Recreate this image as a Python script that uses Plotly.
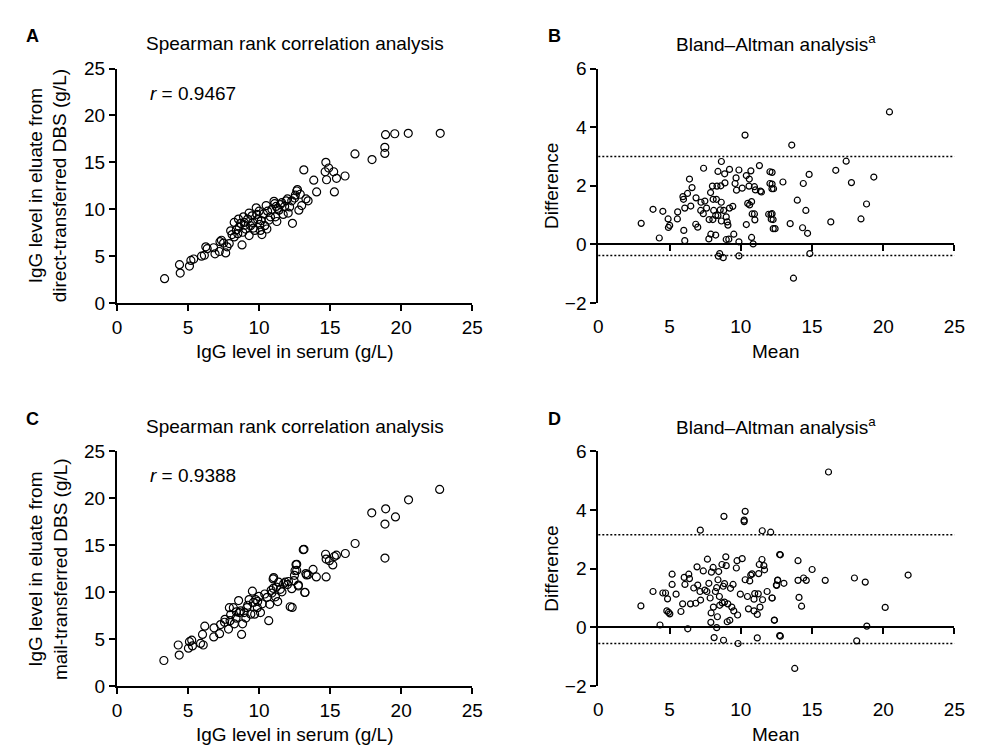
import plotly.graph_objects as go

# ---------------- data ----------------
# Panel A: serum IgG vs direct-transferred DBS eluate IgG (g/L)
a_serum = [3.35, 4.4, 4.45, 5.1, 5.2, 5.4, 5.95, 6.15, 6.25, 6.35, 6.9, 7.2, 7.25, 7.35, 7.65, 7.75,
           7.9, 8.0, 8.25, 8.25, 8.4, 8.55, 8.6, 8.8, 8.85, 8.95, 9.05, 9.2, 9.3, 9.4, 9.55, 9.7,
           9.8, 9.85, 10.0, 10.1, 10.15, 10.2, 10.4, 10.55, 10.7, 10.9, 11.05, 11.1, 11.15, 11.25,
           11.4, 11.5, 11.6, 11.7, 11.8, 12.05, 12.15, 12.35, 12.55, 12.65, 12.7, 12.8, 13.15, 13.3,
           13.45, 13.85, 14.05, 14.65, 14.7, 14.75, 14.9, 15.25, 15.3, 15.45, 16.05, 16.75, 17.95,
           18.85, 18.85, 18.9, 19.55, 20.5, 22.75,
           8.1, 8.5, 9.0, 9.5, 9.6, 10.3, 10.6, 10.8, 11.3, 7.5, 6.8, 9.9, 10.05, 8.7, 11.9, 12.3,
           12.5, 13.0, 12.9, 12.0, 11.2, 10.5, 9.3, 8.9]
a_dbs = [2.6, 4.1, 3.2, 3.95, 4.55, 4.7, 5.0, 5.1, 6.0, 5.8, 5.25, 5.5, 6.55, 6.7, 5.35, 6.0,
         6.35, 7.7, 7.05, 8.6, 7.8, 8.95, 8.1, 6.2, 7.55, 8.6, 7.9, 8.95, 7.2, 8.25, 8.6, 7.75,
         10.15, 9.45, 9.8, 7.75, 8.8, 7.3, 8.25, 7.9, 8.85, 10.0, 10.85, 10.6, 9.2, 8.7,
         9.9, 10.5, 10.7, 9.45, 10.3, 9.6, 10.25, 8.5, 11.5, 11.95, 12.1, 9.9, 14.2, 11.1,
         10.9, 13.1, 11.85, 14.0, 15.0, 13.15, 14.4, 14.0, 11.85, 13.3, 13.55, 15.9, 15.3,
         16.6, 15.95, 17.95, 18.05, 18.1, 18.1,
         7.3, 7.4, 8.3, 9.3, 8.0, 9.5, 9.8, 9.2, 10.1, 6.4, 5.9, 8.9, 8.4, 8.5, 10.9, 10.9,
         11.2, 10.4, 11.6, 11.1, 10.3, 10.4, 9.6, 9.2]
a_r_text = "<i>r</i> = 0.9467"

# Panel B: Bland-Altman (direct-transferred)
b_mean = [3.01, 3.84, 4.28, 4.53, 4.9, 5.01, 4.92, 5.57, 5.55, 5.94, 5.98, 6.26, 6.4, 6.58, 6.0, 6.07,
          6.07, 6.49, 6.86, 6.84, 6.98, 7.21, 7.48, 7.39, 7.19, 7.37, 7.6, 7.78, 7.76, 7.9, 8.24,
          7.88, 8.01, 8.06, 8.1, 8.24, 8.04, 8.33, 8.4, 8.6, 8.64, 8.29, 8.63, 8.56, 8.4, 8.8,
          8.87, 8.89, 8.64, 8.98, 9.05, 9.1, 9.21, 9.21, 9.44, 8.98, 9.16, 9.51, 8.52, 8.43, 8.77,
          9.6, 9.67, 9.7, 9.87, 9.87, 9.87, 10.1, 10.3, 10.39, 10.39, 10.49, 10.58, 10.6, 10.71,
          10.62, 10.76, 10.8, 10.96, 10.99, 10.87, 10.76, 10.96, 11.03, 11.38, 11.45, 11.31,
          12.05, 12.05, 12.19, 11.96, 12.12, 12.14, 12.28,
          20.44, 13.58, 12.2, 12.2, 12.3, 12.96, 14.39, 14.8, 13.97, 14.57, 12.2, 12.27, 12.41,
          13.47, 14.34, 14.69, 14.85, 13.7, 16.32, 16.67, 17.4, 17.77, 18.83, 18.44, 19.34]
b_diff = [0.72, 1.2, 0.22, 1.13, 0.87, 0.65, 0.58, 1.11, 0.87, 1.63, 1.54, 1.74, 2.23, 1.94, 0.48, 0.13,
          1.24, 1.31, 1.59, 0.69, 0.59, 1.44, 1.48, 2.6, 1.16, 1.05, 1.24, 0.85, 0.19, 0.35, 0.32,
          1.77, 1.99, 1.54, 1.16, 0.99, 0.85, 1.99, 2.49, 2.0, 2.83, 1.54, 1.44, 1.18, 0.99, 1.16,
          2.41, 2.1, 0.8, 0.94, 0.77, 0.66, 2.56, 1.24, 1.3, 0.17, 0.18, 0.35, -0.31, -0.4, -0.45,
          2.08, 2.27, 1.85, 2.54, 0.09, -0.39, 1.92, 3.73, 2.35, 0.68, 1.4, 1.99, 2.23, 2.51,
          1.35, 1.46, 1.04, 1.04, 0.84, 0.02, 0.24, 1.97, 1.86, 1.82, 1.79, 2.69,
          2.48, 2.08, 1.9, 1.03, 1.03, 0.86, 0.54,
          4.52, 3.39, 2.46, 2.06, 1.9, 2.13, 2.08, 2.39, 1.51, 1.16, 1.05, 0.85, 0.54,
          0.71, 0.57, 0.38, -0.31, -1.15, 0.77, 2.53, 2.84, 2.11, 1.38, 0.87, 2.3]
b_upper_loa = 3.0
b_lower_loa = -0.38

# Panel C: serum IgG vs mail-transferred DBS eluate IgG (g/L)
c_serum = [3.3, 4.38, 4.31, 5.03, 5.1, 5.26, 5.31, 5.88, 6.07, 6.02, 6.18, 6.81, 6.83, 7.22, 7.29, 7.57,
           7.85, 7.96, 7.91, 8.19, 8.26, 8.38, 8.56, 8.61, 8.77, 8.84, 8.95, 9.07, 9.14, 9.3, 9.42,
           9.53, 9.69, 9.76, 9.88, 9.99, 10.1, 10.22, 10.57, 10.68, 10.75, 10.85, 10.99, 11.15,
           11.22, 11.31, 11.38, 11.61, 11.73, 11.84, 12.07, 12.19, 12.33, 12.3, 12.46, 12.53,
           12.65, 12.76, 13.11, 13.22, 13.34,
           22.71, 20.52, 18.91, 19.6, 17.93, 18.86, 18.86, 16.76, 16.07, 13.16, 14.68, 14.72,
           14.95, 15.3, 15.19, 15.44, 13.8, 14.03, 14.72, 13.29, 13.45, 12.6, 12.65, 12.49, 12.77,
           13.23, 11.03,
           8.0, 8.7, 9.6, 10.4, 11.0, 9.2, 7.6, 10.9, 11.5, 12.0, 8.4, 9.9]
c_dbs = [2.72, 3.3, 4.37, 4.03, 4.72, 4.89, 4.27, 4.54, 4.37, 5.5, 6.37, 5.23, 6.2, 5.58, 6.55, 6.79,
         6.07, 6.96, 8.34, 8.34, 6.62, 7.24, 9.1, 7.82, 5.5, 6.62, 7.82, 7.24, 8.34, 9.2, 7.65,
         10.1, 7.65, 9.2, 8.34, 9.54, 7.82, 8.75, 9.44, 6.96, 8.7, 10.2, 11.4, 9.5,
         10.54, 8.99, 11.06, 10.03, 10.89, 11.06, 11.13, 8.44, 8.37, 10.37, 11.23, 12.27,
         12.96, 10.65, 14.52, 9.96, 11.82,
         20.93, 19.82, 18.86, 18.0, 18.44, 17.24, 13.62, 15.17, 14.11, 14.55, 14.03, 13.51,
         13.34, 13.79, 12.89, 13.93, 12.41, 11.62, 11.62, 11.97, 11.86, 12.93, 12.31, 11.79, 10.75,
         9.97, 11.55,
         7.6, 8.0, 8.9, 9.8, 10.4, 8.6, 7.1, 9.9, 10.3, 10.8, 7.9, 9.0]
c_r_text = "<i>r</i> = 0.9388"

# Panel D: Bland-Altman (mail-transferred)
d_mean = [2.99, 3.84, 4.33, 4.53, 4.72, 4.86, 4.81, 5.02, 4.93, 5.18, 5.18, 5.46, 5.8, 5.92, 6.03, 6.08,
          6.35, 6.4, 6.28, 6.47, 6.7, 6.84, 6.93, 6.98, 7.16, 7.18, 7.14, 7.37, 7.48, 7.62, 7.66,
          7.76, 7.85, 7.92, 7.9, 7.94, 8.06, 8.08, 8.13, 8.22, 8.31, 8.36, 8.31, 8.4, 8.45, 8.5,
          8.52, 8.68, 8.7, 8.77, 8.79, 8.82, 8.86, 8.95, 8.98, 8.86, 9.05, 9.23, 9.09, 9.28, 9.37,
          9.46, 9.51, 9.69, 9.74, 9.78, 9.81, 9.97, 10.1, 10.24, 10.24, 10.31, 10.31, 10.47, 10.54,
          10.63, 10.7, 10.79, 10.93, 10.93, 10.98, 11.16, 11.16, 11.23, 11.26, 11.3, 11.35, 11.49,
          11.51, 11.53, 11.62, 11.67, 11.85, 12.2, 12.36, 12.5, 12.59, 12.73, 12.73,
          16.16, 12.1, 12.78, 14.02, 15.01, 12.59, 12.52, 13.03, 14.02, 14.41, 14.6, 15.93, 17.98,
          18.74, 21.75, 12.2, 14.09, 14.27, 20.14, 12.36, 18.85, 12.78, 18.14, 13.79]
d_diff = [0.73, 1.22, 0.08, 1.17, 1.17, 0.97, 0.56, 0.46, 0.51, 1.81, 1.46, 1.13, 0.54, 0.8, 1.7, 1.46,
          1.81, 1.66, -0.05, 0.8, 1.34, 0.82, 2.06, 1.44, 3.31, 0.93, 1.22, 1.92, 1.27, 1.22, 2.32,
          1.5, 1.0, 0.49, 0.17, 1.88, 2.04, 0.69, -0.35, 1.22, 1.35, 0.36, -0.01, 1.62, 1.9, 1.05,
          0.75, 2.14, 0.83, 1.4, -0.44, 3.78, 0.86, 2.4, 2.1, 1.49, 0.19, 0.24, 0.8, 1.33, 0.69,
          1.46, 0.56, 2.02, 2.27, 0.42, -0.55, 1.13, 2.34, 3.6, 3.65, 3.95, 1.62, 1.05, 0.63,
          1.58, 1.78, 1.82, 0.96, 0.56, 1.15, 0.44, -0.36, 1.14, 1.83, 2.14, 0.69, 2.31,
          3.29, 0.94, 2.1, 1.96, 1.22, 1.0, 0.25, 1.44, 1.61, 2.48, -0.28,
          5.29, 3.24, 2.47, 2.27, 1.97, 1.6, 1.43, 1.5, 1.6, 1.68, 1.6, 1.6, 1.68,
          1.54, 1.78, 1.0, 1.02, 0.72, 0.68, 0.24, 0.04, -0.3, -0.46, -1.4]
d_upper_loa = 3.15
d_lower_loa = -0.55

corr_range = [0, 25]
corr_ticks = [0, 5, 10, 15, 20, 25]
ba_xrange = [0, 25]
ba_yrange = [-2, 6]
ba_yticks = [-2, 0, 2, 4, 6]

corr_title = "Spearman rank correlation analysis"
ba_title = "Bland\u2013Altman analysis<sup>a</sup>"
x_corr_label = "IgG level in serum (g/L)"
y_a_label = "IgG level in eluate from<br>direct-transferred DBS (g/L)"
y_c_label = "IgG level in eluate from<br>mail-transferred DBS (g/L)"
x_ba_label = "Mean"
y_ba_label = "Difference"

# ---------------- layout geometry ----------------
W, H = 983, 751
FONT = "Liberation Sans, Arial, sans-serif"
FS = 19


def fx(px):
    return px / W


def fy(py):
    return 1 - py / H


XL = [fx(105.7), fx(466.8)]
XR = [fx(595), fx(957)]
YT = [fy(293.3), fy(52)]
YB = [fy(687.3), fy(445.6)]


def zero_pos(dom, rng):
    return dom[0] + (dom[1] - dom[0]) * (0 - rng[0]) / (rng[1] - rng[0])


axis_common = dict(showline=True, linewidth=2, linecolor="black", ticks="outside", ticklen=6,
                   tickwidth=2, tickcolor="black", showgrid=False, zeroline=False,
                   tickfont=dict(family=FONT, size=FS, color="black"))

fig = go.Figure()

open_big = dict(symbol="circle-open", size=8, color="black", line=dict(width=1.2, color="black"))
open_small = dict(symbol="circle-open", size=6, color="black", line=dict(width=1.2, color="black"))

fig.add_trace(go.Scatter(x=a_serum, y=a_dbs, mode="markers", marker=open_big, xaxis="x", yaxis="y"))
fig.add_trace(go.Scatter(x=b_mean, y=b_diff, mode="markers", marker=open_small, xaxis="x2", yaxis="y2"))
fig.add_trace(go.Scatter(x=c_serum, y=c_dbs, mode="markers", marker=open_big, xaxis="x3", yaxis="y3"))
fig.add_trace(go.Scatter(x=d_mean, y=d_diff, mode="markers", marker=open_small, xaxis="x4", yaxis="y4"))
# helper (empty) traces for the zero-line axes of the Bland-Altman panels
fig.add_trace(go.Scatter(x=[None], y=[None], mode="markers", xaxis="x5", yaxis="y2", hoverinfo="skip"))
fig.add_trace(go.Scatter(x=[None], y=[None], mode="markers", xaxis="x6", yaxis="y4", hoverinfo="skip"))

label_only = dict(showline=False, ticks="outside", ticklen=6, tickwidth=2, tickcolor="rgba(0,0,0,0)",
                  showgrid=False, zeroline=False, tickfont=dict(family=FONT, size=FS, color="black"))
line_only = dict(showline=True, linewidth=2, linecolor="black", ticks="outside", ticklen=6,
                 tickwidth=2, tickcolor="black", showticklabels=False, showgrid=False, zeroline=False)

fig.update_layout(
    width=W, height=H, margin=dict(l=0, r=0, t=0, b=0),
    plot_bgcolor="white", paper_bgcolor="white", showlegend=False,
    font=dict(family=FONT, size=FS, color="black"),
    xaxis=dict(domain=XL, anchor="y", range=corr_range, tickvals=corr_ticks, **axis_common),
    yaxis=dict(domain=YT, anchor="x", range=corr_range, tickvals=corr_ticks, **axis_common),
    xaxis3=dict(domain=XL, anchor="y3", range=corr_range, tickvals=corr_ticks, **axis_common),
    yaxis3=dict(domain=YB, anchor="x3", range=corr_range, tickvals=corr_ticks, **axis_common),
    xaxis2=dict(domain=XR, anchor="y2", range=ba_xrange, tickvals=corr_ticks, **label_only),
    yaxis2=dict(domain=YT, anchor="x2", range=ba_yrange, tickvals=ba_yticks, **axis_common),
    xaxis4=dict(domain=XR, anchor="y4", range=ba_xrange, tickvals=corr_ticks, **label_only),
    yaxis4=dict(domain=YB, anchor="x4", range=ba_yrange, tickvals=ba_yticks, **axis_common),
    xaxis5=dict(overlaying="x2", anchor="free", position=zero_pos(YT, ba_yrange),
                range=ba_xrange, tickvals=corr_ticks[1:], **line_only),
    xaxis6=dict(overlaying="x4", anchor="free", position=zero_pos(YB, ba_yrange),
                range=ba_xrange, tickvals=corr_ticks[1:], **line_only),
)

# limits of agreement (dotted lines)
for xr, yr, val in [("x2", "y2", b_upper_loa), ("x2", "y2", b_lower_loa),
                    ("x4", "y4", d_upper_loa), ("x4", "y4", d_lower_loa)]:
    fig.add_shape(type="line", xref=xr + " domain", x0=0, x1=1, yref=yr, y0=val, y1=val,
                  line=dict(color="black", width=1.5, dash="2px,2px"), layer="below")

ann = []
# panel letters
for txt, px, py in [("A", 20, 18.5), ("B", 550, 18.5), ("C", 20, 412.5), ("D", 550, 412.5)]:
    ann.append(dict(text="<b>" + txt + "</b>", x=fx(px), y=fy(py), xref="paper", yref="paper",
                    showarrow=False, font=dict(size=18, family=FONT), xanchor="center", yanchor="middle"))
# panel titles
for txt, dom, py in [(corr_title, XL, 26), (ba_title, XR, 26), (corr_title, XL, 420), (ba_title, XR, 420)]:
    ann.append(dict(text=txt, x=(dom[0] + dom[1]) / 2, y=fy(py), xref="paper", yref="paper",
                    showarrow=False, font=dict(size=FS, family=FONT), xanchor="center", yanchor="middle"))
# x-axis titles
for txt, dom, py in [(x_corr_label, XL, 343), (x_ba_label, XR, 343), (x_corr_label, XL, 737), (x_ba_label, XR, 737)]:
    ann.append(dict(text=txt, x=(dom[0] + dom[1]) / 2, y=fy(py), xref="paper", yref="paper",
                    showarrow=False, font=dict(size=FS, family=FONT), xanchor="center", yanchor="middle"))
# y-axis titles
for txt, px, dom in [(y_a_label, 35, YT), (y_ba_label, 548, YT), (y_c_label, 35, YB), (y_ba_label, 548, YB)]:
    ann.append(dict(text=txt, x=fx(px), y=(dom[0] + dom[1]) / 2, xref="paper", yref="paper",
                    showarrow=False, textangle=-90, font=dict(size=FS, family=FONT),
                    xanchor="center", yanchor="middle"))
# correlation coefficients
ann.append(dict(text=a_r_text, x=2.2, y=22.3, xref="x", yref="y", showarrow=False,
                xanchor="left", yanchor="middle", font=dict(size=FS, family=FONT)))
ann.append(dict(text=c_r_text, x=2.2, y=22.4, xref="x3", yref="y3", showarrow=False,
                xanchor="left", yanchor="middle", font=dict(size=FS, family=FONT)))
fig.update_layout(annotations=ann)

fig.write_html("out.html")
